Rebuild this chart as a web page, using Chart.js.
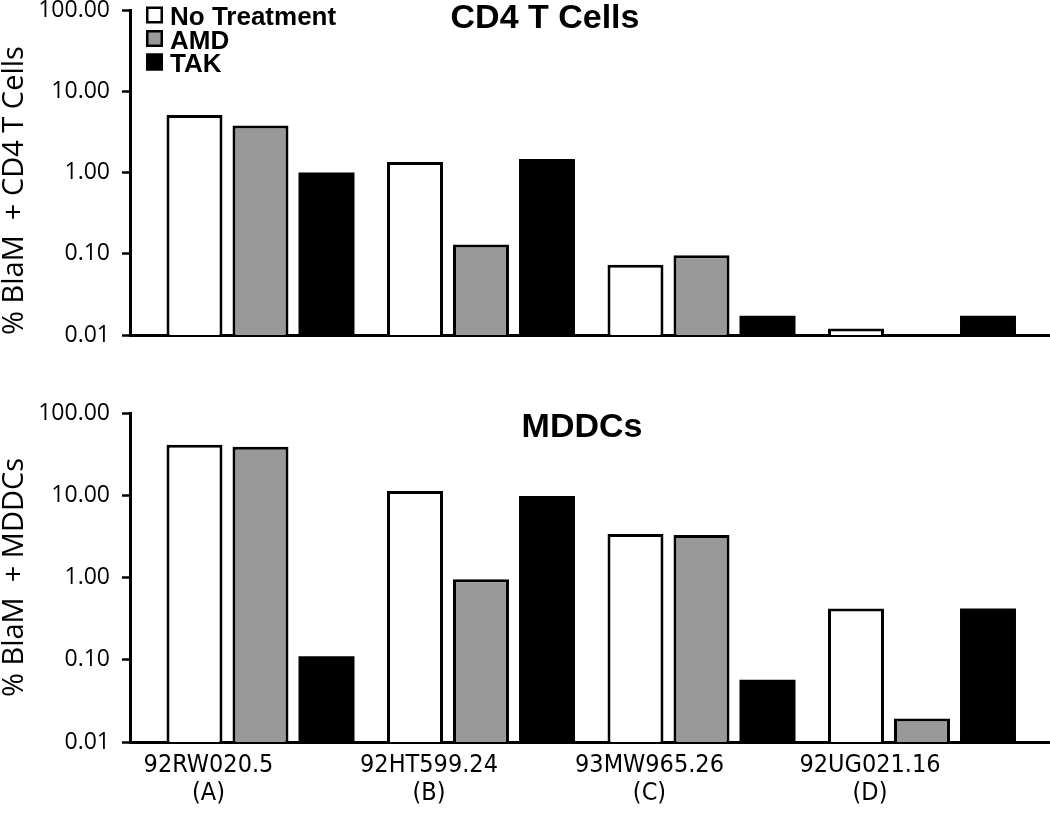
<!DOCTYPE html>
<html><head><meta charset="utf-8">
<script src="https://cdn.jsdelivr.net/npm/chart.js@4.4.1/dist/chart.umd.min.js"></script>
<style>
html,body{margin:0;padding:0;background:#fff;width:1050px;height:814px;overflow:hidden;}
#w1{position:absolute;left:0;top:-20px;width:1050px;height:390px;}
#w2{position:absolute;left:0;top:380px;width:1050px;height:434px;}
</style></head><body>
<div id="w1"><canvas id="c1"></canvas></div>
<div id="w2"><canvas id="c2"></canvas></div>
<script>
// ---- data ----
const categories = [['92RW020.5','(A)'],['92HT599.24','(B)'],['93MW965.26','(C)'],['92UG021.16','(D)']];
const seriesNames = ['No Treatment','AMD','TAK'];
const cd4NoTreatment = [5.1, 1.35, 0.073, 0.012];
const cd4AMD = [3.8, 0.13, 0.096, null];
const cd4TAK = [1.0, 1.47, 0.0173, 0.0173];
const mddcNoTreatment = [41, 11.3, 3.37, 0.42];
const mddcAMD = [39, 0.95, 3.28, 0.0193];
const mddcTAK = [0.11, 9.8, 0.057, 0.42];
const yTickValues = [0.01, 0.1, 1, 10, 100];
const yTickLabels = ['0.01','0.10','1.00','10.00','100.00'];
const panelTitles = ['CD4 T Cells','MDDCs'];
const yAxisTitles = ['% BlaM  + CD4 T Cells','% BlaM  + MDDCs'];

// ---- styles ----
const fills = ['#ffffff','#999999','#000000'];
const borders = ['#000000','#000000','#000000'];
const borderWidths = [3,3,0];
const tickFont = '"Open Sans", "Noto Sans", sans-serif';
const catFont = '"Liberation Sans Narrow", "DejaVu Sans Condensed", "Roboto", sans-serif';
const boldFont = '"Liberation Sans", Arial, sans-serif';

const manualLegend = {
  id: 'manualLegend',
  afterDraw(chart, args, opts) {
    const ctx = chart.ctx;
    ctx.save();
    if (opts.title) {
      ctx.font = 'bold ' + opts.titleSize + 'px ' + boldFont;
      ctx.fillStyle = '#000';
      ctx.textAlign = 'center';
      ctx.textBaseline = 'alphabetic';
      ctx.fillText(opts.title, opts.titleX, opts.titleY);
    }
    if (opts.showLegend) {
      chart.data.datasets.forEach((ds, i) => {
        const y = opts.y + i * opts.step;
        const s = opts.box;
        ctx.fillStyle = ds.backgroundColor;
        ctx.fillRect(opts.x, y, s, s);
        ctx.lineWidth = 2.5;
        ctx.strokeStyle = '#000';
        ctx.strokeRect(opts.x + 1.25, y + 1.25, s - 2.5, s - 2.5);
        ctx.font = 'bold ' + opts.fontSize + 'px ' + boldFont;
        ctx.fillStyle = '#000';
        ctx.textAlign = 'left';
        ctx.textBaseline = 'alphabetic';
        ctx.fillText(ds.label, opts.textX, opts.baseline + i * opts.step);
      });
    }
    ctx.restore();
  }
};

function makeChart(id, series, yTitle, title, showLabels, cfg) {
  const datasets = series.map((vals, k) => ({
    label: seriesNames[k],
    data: vals.map((v, i) => ({x: i, y: v})),
    backgroundColor: fills[k],
    borderColor: borders[k],
    borderWidth: borderWidths[k],
    borderSkipped: 'start',
    categoryPercentage: 0.898,
    barPercentage: 0.848
  }));
  return new Chart(document.getElementById(id), {
    type: 'bar',
    data: {datasets},
    plugins: [manualLegend],
    options: {
      responsive: true,
      maintainAspectRatio: false,
      animation: false,
      devicePixelRatio: 1,
      layout: {padding: {top: cfg.padTop, bottom: cfg.padBottom, left: 0, right: 0}},
      plugins: {
        legend: {display: false},
        tooltip: {enabled: false},
        manualLegend: {
          title: title, titleSize: 34, titleX: cfg.titleX, titleY: cfg.titleY,
          showLegend: cfg.showLegend, x: 146, y: 26.5, box: 17, step: 23.5,
          textX: 170, baseline: 45, fontSize: 26
        }
      },
      scales: {
        x: {
          type: 'linear',
          min: -0.5918,
          max: 3.5805,
          offset: false,
          z: 1,
          afterBuildTicks: s => { s.ticks = categories.map((c, i) => ({value: i})); },
          afterFit: s => { s.height = cfg.xHeight; },
          ticks: {
            display: showLabels,
            autoSkip: false,
            maxRotation: 0,
            callback: (v, i) => categories[i],
            labelOffset: -52,
            padding: 9,
            color: '#000',
            font: {family: catFont, size: 25, lineHeight: 1.12}
          },
          grid: {display: true, drawOnChartArea: false, drawTicks: false, color: '#000'},
          border: {display: true, color: '#000', width: 3}
        },
        y: {
          type: 'logarithmic',
          min: 0.01,
          max: 100,
          afterBuildTicks: s => { s.ticks = yTickValues.map(v => ({value: v, major: true})); },
          afterFit: s => { s.width = 130; },
          ticks: {
            autoSkip: false,
            callback: (v, i) => yTickLabels[i],
            padding: 12,
            color: '#000',
            font: {family: tickFont, size: 23}
          },
          grid: {display: true, drawOnChartArea: false, drawTicks: true, tickLength: 8,
                 tickColor: '#000', tickWidth: 2.5, color: '#000'},
          border: {display: true, color: '#000', width: 3},
          title: {display: true, text: yTitle, color: '#000', padding: 0, align: cfg.titleAlign,
                  font: {family: tickFont, size: 29, lineHeight: 1.05}}
        }
      }
    }
  });
}

makeChart('c1', [cd4NoTreatment, cd4AMD, cd4TAK], yAxisTitles[0], panelTitles[0], false,
  {padTop: 30, padBottom: 35, xHeight: 0, titleX: 545, titleY: 48, showLegend: true, titleAlign: 'start'});
makeChart('c2', [mddcNoTreatment, mddcAMD, mddcTAK], yAxisTitles[1], panelTitles[1], true,
  {padTop: 33, padBottom: 0, xHeight: 72, titleX: 582, titleY: 57, showLegend: false, titleAlign: 'center'});
</script>
</body></html>
